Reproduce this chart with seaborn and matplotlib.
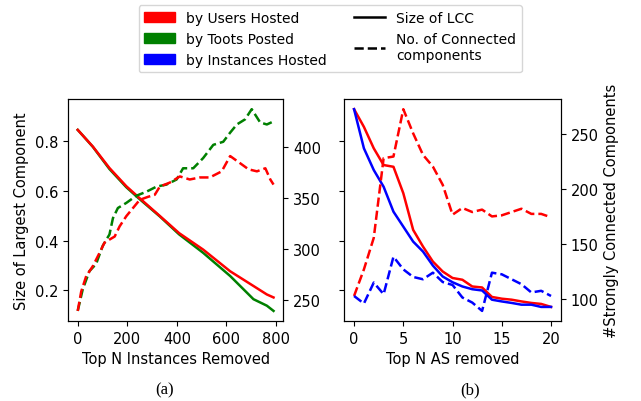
import pandas as pd
import seaborn as sns
import matplotlib.pyplot as plt
from matplotlib.patches import Patch
from matplotlib.lines import Line2D

# ---- (a) instance removal ----
inst_x_lcc = [0, 20, 61, 128, 196, 243, 331, 409, 506, 615, 709, 763, 790]
users_lcc = [0.844, 0.822, 0.777, 0.691, 0.618, 0.576, 0.499, 0.430, 0.364, 0.277, 0.218, 0.184, 0.172]
toots_lcc = [0.844, 0.822, 0.776, 0.687, 0.614, 0.572, 0.497, 0.425, 0.351, 0.258, 0.165, 0.139, 0.118]

inst_x_users_cc = [0, 14, 34, 61, 88, 108, 128, 149, 169, 196, 223, 250, 284, 311, 331, 372,
                   412, 452, 493, 533, 581, 615, 655, 689, 723, 757, 777, 790]
users_cc = [239, 258, 273, 283, 296, 306, 309, 312, 322, 332, 340, 348, 351, 353, 361, 365,
            371, 368, 370, 370, 376, 391, 384, 378, 376, 379, 368, 363]

inst_x_toots_cc = [0, 20, 47, 74, 101, 128, 142, 162, 196, 236, 277, 318, 358, 399, 425, 466,
                   506, 547, 587, 615, 642, 675, 702, 736, 763, 790]
toots_cc = [239, 260, 278, 285, 303, 314, 330, 340, 345, 352, 356, 361, 363, 368, 379, 379,
            389, 402, 405, 414, 422, 427, 437, 424, 422, 425]

# ---- (b) AS removal ----
as_x = list(range(21))
as_users_lcc = [0.927, 0.856, 0.770, 0.703, 0.696, 0.590, 0.443, 0.376, 0.316, 0.276, 0.250,
                0.243, 0.216, 0.212, 0.174, 0.167, 0.163, 0.156, 0.150, 0.146, 0.134]
as_inst_lcc = [0.927, 0.770, 0.683, 0.616, 0.516, 0.456, 0.396, 0.356, 0.300, 0.256, 0.233,
               0.216, 0.205, 0.200, 0.163, 0.156, 0.150, 0.143, 0.143, 0.134, 0.134]
as_users_cc = [102.6, 126.8, 155.5, 228, 229.5, 272.6, 250.6, 231, 220.4, 203.8, 176.6,
               182.7, 179, 181.2, 175, 176, 179, 182, 177.3, 177.3, 174.2]
as_inst_cc = [102.6, 95.7, 114.8, 104.2, 138.3, 126.8, 119.9, 117.8, 123.8, 115.3, 112.6,
              101.2, 96.6, 89, 123.8, 122.3, 117.8, 113.3, 105.8, 107.3, 102.6]

plt.rcParams["font.size"] = 10.5
fig = plt.figure(figsize=(6.41, 4.02), dpi=100)
ax1 = fig.add_axes([0.106, 0.199, 0.336, 0.552])
ax2 = fig.add_axes([0.537, 0.199, 0.338, 0.552], sharey=ax1)
ax1r = ax1.twinx()
ax2r = ax2.twinx()

lw = 1.8
sns.lineplot(x=inst_x_lcc, y=toots_lcc, color="green", lw=lw, ax=ax1)
sns.lineplot(x=inst_x_lcc, y=users_lcc, color="red", lw=lw, ax=ax1)
sns.lineplot(x=inst_x_toots_cc, y=toots_cc, color="green", lw=lw, ls="--", ax=ax1r)
sns.lineplot(x=inst_x_users_cc, y=users_cc, color="red", lw=lw, ls="--", ax=ax1r)

sns.lineplot(x=as_x, y=as_users_lcc, color="red", lw=lw, ax=ax2)
sns.lineplot(x=as_x, y=as_inst_lcc, color="blue", lw=lw, ax=ax2)
sns.lineplot(x=as_x, y=as_users_cc, color="red", lw=lw, ls="--", ax=ax2r)
sns.lineplot(x=as_x, y=as_inst_cc, color="blue", lw=lw, ls="--", ax=ax2r)

ax1.set_xticks([0, 200, 400, 600, 800])
ax1.set_yticks([0.2, 0.4, 0.6, 0.8])
ax1r.set_yticks([250, 300, 350, 400])
ax2.set_xticks([0, 5, 10, 15, 20])
ax2r.set_yticks([100, 150, 200, 250])
ax2.tick_params(labelleft=False)

ax1.set_xlabel("Top N Instances Removed")
ax1.set_ylabel("Size of Largest Component")
ax2.set_xlabel("Top N AS removed")
ax2r.set_ylabel("#Strongly Connected Components")

handles = [Patch(color="red", label="by Users Hosted"),
           Patch(color="green", label="by Toots Posted"),
           Patch(color="blue", label="by Instances Hosted"),
           Line2D([], [], color="black", lw=lw, label="Size of LCC"),
           Line2D([], [], color="black", lw=lw, ls="--", label="No. of Connected\ncomponents")]
fig.legend(handles=handles, loc="upper center", bbox_to_anchor=(0.515, 0.993), ncol=2,
           fontsize=10, handlelength=2.2, columnspacing=2.0, borderaxespad=0.25)

fig.text(0.256, 0.030, "(a)", ha="center", va="center", family="Liberation Serif", fontsize=12)
fig.text(0.733, 0.030, "(b)", ha="center", va="center", family="Liberation Serif", fontsize=12)

fig.savefig("out.png", dpi=100)
